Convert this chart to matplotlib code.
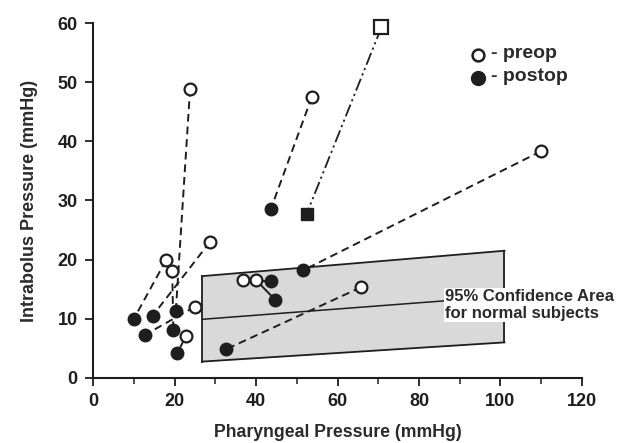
import numpy as np
import matplotlib
matplotlib.use('Agg')
import matplotlib.pyplot as plt
from matplotlib.ticker import MultipleLocator

# paired measurements: preop (open) -> postop (filled)
preop_x = [23.8, 53.7, 109.9, 65.7, 28.7, 17.9, 19.4, 24.9, 22.7, 36.7, 39.9]
preop_y = [48.9, 47.5, 38.3, 15.3, 23.0, 19.9, 18.1, 12.0, 7.0, 16.6, 16.6]
postop_x = [20.3, 43.6, 51.6, 32.5, 14.6, 10.0, 19.7, 12.8, 20.7, 43.6, 44.7]
postop_y = [11.3, 28.5, 18.2, 4.8, 10.5, 10.0, 8.1, 7.3, 4.2, 16.3, 13.2]
# short solid connectors (instead of dashed)
solid_pair = [False, False, False, False, False, False, False, False, True, True, True]

# the square patient
sq_pre = (70.8, 59.3)
sq_post = (52.4, 27.7)

# 95% confidence area for normal subjects
ci_x = [26.7, 101.0]
ci_upper = [17.2, 21.5]
ci_lower = [2.75, 6.0]
ci_mid = [9.9, 13.8]

plt.rcParams['font.family'] = ['Liberation Sans', 'DejaVu Sans']
plt.rcParams['font.weight'] = 'bold'
k = '#1e1e1e'

fig = plt.figure(figsize=(6.21, 4.43), dpi=100)
ax = fig.add_axes([0.150, 0.147, 0.787, 0.801])

# confidence area
ax.fill_between(ci_x, ci_lower, ci_upper, color='#d9d9d9', lw=0, zorder=1)
ax.plot(ci_x, ci_upper, color=k, lw=1.3, zorder=2)
ax.plot(ci_x, ci_lower, color=k, lw=1.3, zorder=2)
ax.plot(ci_x, ci_mid, color=k, lw=1.1, zorder=2)
ax.plot([ci_x[0], ci_x[0]], [ci_lower[0], ci_upper[0]], color=k, lw=1.3, zorder=2)
ax.plot([ci_x[1], ci_x[1]], [ci_lower[1], ci_upper[1]], color=k, lw=1.3, zorder=2)
ax.text(86.5, 12.3, '95% Confidence Area\nfor normal subjects', fontsize=12,
        fontweight='bold', color='#2a2a2a', linespacing=1.12, va='center', ha='left',
        bbox=dict(facecolor='white', edgecolor='none', pad=1.0), zorder=3)

# connecting lines
for i in range(len(preop_x)):
    ls = '-' if solid_pair[i] else (0, (4, 2.5))
    ax.plot([preop_x[i], postop_x[i]], [preop_y[i], postop_y[i]], color=k,
            lw=1.4, ls=ls, zorder=4)
ax.plot([sq_pre[0], sq_post[0]], [sq_pre[1], sq_post[1]], color=k, lw=1.3,
        ls=(0, (7, 2, 1.2, 2, 1.2, 2)), zorder=4)

# markers
ax.plot(preop_x, preop_y, 'o', ms=8.5, mfc='white', mec=k, mew=1.6, ls='none', zorder=5)
ax.plot(postop_x, postop_y, 'o', ms=9, mfc=k, mec=k, ls='none', zorder=5)
ax.plot(sq_pre[0], sq_pre[1], 's', ms=9.5, mfc='white', mec=k, mew=1.6, zorder=5, clip_on=False)
ax.plot(sq_post[0], sq_post[1], 's', ms=9, mfc=k, mec=k, zorder=5)

# legend
ax.plot(94.4, 54.6, 'o', ms=8.5, mfc='white', mec=k, mew=1.8, clip_on=False)
ax.plot(94.4, 50.7, 'o', ms=10, mfc=k, mec=k, clip_on=False)
ax.text(97.6, 54.8, '- preop', fontsize=14, fontweight='bold', color='#2a2a2a', va='center')
ax.text(97.6, 50.9, '- postop', fontsize=14, fontweight='bold', color='#2a2a2a', va='center')

ax.set_xlim(0, 120)
ax.set_ylim(0, 60)
ax.xaxis.set_major_locator(MultipleLocator(20))
ax.xaxis.set_minor_locator(MultipleLocator(10))
ax.yaxis.set_major_locator(MultipleLocator(10))
ax.spines['top'].set_visible(False)
ax.spines['right'].set_visible(False)
for s in ['left', 'bottom']:
    ax.spines[s].set_linewidth(1.5)
    ax.spines[s].set_color(k)
ax.tick_params(axis='both', which='major', direction='out', length=6, width=1.3,
               labelsize=13, colors=k, pad=5)
ax.tick_params(axis='x', which='minor', direction='out', length=4, width=1.1, colors=k)
for lab in ax.get_xticklabels() + ax.get_yticklabels():
    lab.set_fontweight('bold')

ax.set_xlabel('Pharyngeal Pressure (mmHg)', fontsize=12.7, fontweight='bold', color='#2a2a2a', labelpad=10)
ax.set_ylabel('Intrabolus Pressure (mmHg)', fontsize=13, fontweight='bold', color='#2a2a2a', labelpad=14)

fig.savefig('out.png', dpi=100)
